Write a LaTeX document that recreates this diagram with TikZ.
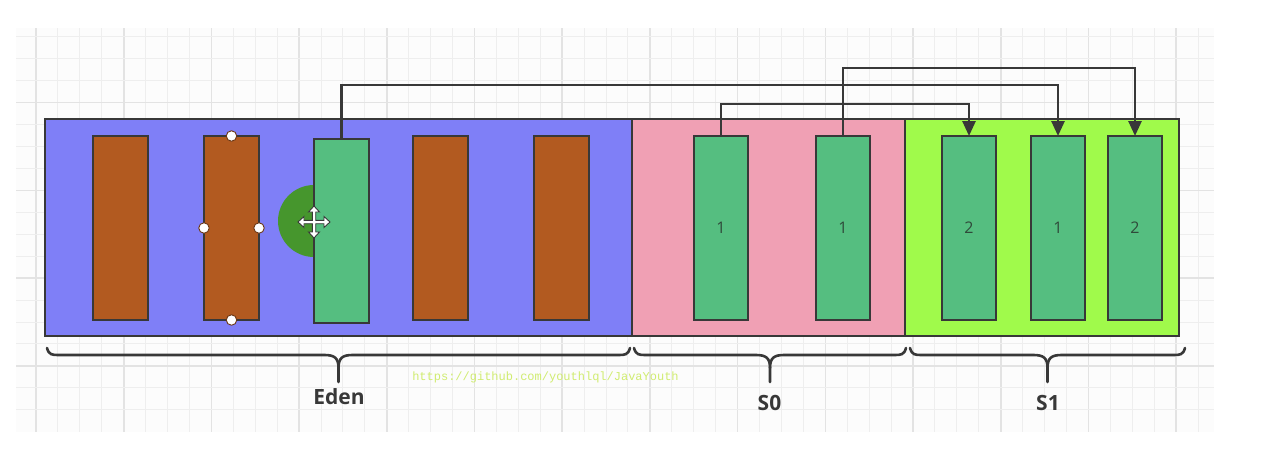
\documentclass[tikz,border=0pt]{standalone}
\usepackage{fontspec}
\setmainfont{Open Sans}
\newfontfamily\monof{Liberation Mono}
\usetikzlibrary{arrows.meta}
\definecolor{linec}{HTML}{383838}
\definecolor{edenc}{HTML}{7F7FF7}
\definecolor{szeroc}{HTML}{F0A0B4}
\definecolor{sonec}{HTML}{A0FA4B}
\definecolor{brownc}{HTML}{B25A20}
\definecolor{objc}{HTML}{55BE80}
\definecolor{dgreenc}{HTML}{46962D}
\definecolor{gridminor}{HTML}{EEEEEE}
\definecolor{gridmajor}{HTML}{E3E3E3}
\definecolor{wmark}{HTML}{D0EC70}
\definecolor{numc}{HTML}{2F4A3A}
\begin{document}
\begin{tikzpicture}[x=1pt,y=-1pt,
  area/.style={draw=linec, line width=2.6pt, inner sep=0pt, outer sep=0pt, minimum height=217pt},
  objbox/.style={draw=linec, line width=2.6pt, inner sep=0pt, outer sep=0pt, minimum width=55pt, minimum height=184pt},
  oldobj/.style={objbox, fill=brownc},
  liveobj/.style={objbox, fill=objc, font=\fontsize{16}{18}\selectfont, text=numc},
  conn/.style={draw=linec, line width=2.6pt, -{Triangle[length=15pt,width=13pt]}},
  bracec/.style={draw=linec, line width=2.6pt, line cap=round},
  arealabel/.style={font=\fontsize{21}{24}\selectfont\bfseries, text=linec, inner sep=0pt},
  handle/.style={circle, draw=brownc!60!black, fill=white, line width=0.9pt, minimum size=10.5pt, inner sep=0pt}
]
\useasboundingbox (0,0) rectangle (1274,458);
% grid background
\fill[fill={rgb,255:red,252;green,252;blue,252}] (16,28) rectangle (1214,432);
\foreach \k in {0,...,53} {
  \pgfmathsetmacro\xx{36+21.925*\k}
  \pgfmathtruncatemacro\mm{mod(\k,4)}
  \ifnum\mm=0
    \draw[gridmajor, line width=1.6pt] (\xx,28) -- (\xx,432);
  \else
    \draw[gridminor, line width=1pt] (\xx,28) -- (\xx,432);
  \fi
}
\foreach \k in {1,...,18} {
  \pgfmathsetmacro\yy{14.7+21.95*\k}
  \pgfmathtruncatemacro\mm{mod(\k,4)}
  \ifnum\mm=0
    \draw[gridmajor, line width=1.6pt] (16,\yy) -- (1214,\yy);
  \else
    \draw[gridminor, line width=1pt] (16,\yy) -- (1214,\yy);
  \fi
}
% areas
\node[area, fill=edenc, minimum width=587pt] (eden) at (338.5,227.5) {};
\node[area, fill=szeroc, minimum width=273pt] (szero) at (768.5,227.5) {};
\node[area, fill=sonec, minimum width=274pt] (sone) at (1042,227.5) {};
% eden objects
\node[oldobj] (e1) at (120.5,228) {};
\node[oldobj] (e2) at (231.5,228) {};
\node[oldobj] (e4) at (440.5,228) {};
\node[oldobj] (e5) at (561.5,228) {};
\fill[dgreenc] (314,221) circle (36);
\node[liveobj] (e3) at (341.5,231) {};
% selection handles
\node[handle] (h1) at (e2.north) {};
\node[handle] (h2) at (e2.west) {};
\node[handle] (h3) at (e2.east) {};
\node[handle] (h4) at (e2.south) {};
% move cursor
\filldraw[fill=white, draw=linec, line width=0.9pt, shift={(314,222)}]
  (16,0) -- (10,-5.5) -- (10,-1.7) -- (1.7,-1.7) -- (1.7,-10) -- (5.5,-10) -- (0,-16) -- (-5.5,-10) -- (-1.7,-10) -- (-1.7,-1.7)
  -- (-10,-1.7) -- (-10,-5.5) -- (-16,0) -- (-10,5.5) -- (-10,1.7) -- (-1.7,1.7) -- (-1.7,10) -- (-5.5,10) -- (0,16)
  -- (5.5,10) -- (1.7,10) -- (1.7,1.7) -- (10,1.7) -- (10,5.5) -- cycle;
% survivor objects
\node[liveobj, minimum width=54pt] (a1) at (721,228) {1};
\node[liveobj, minimum width=54pt] (a2) at (843,228) {1};
\node[liveobj, minimum width=54pt] (b1) at (969,228) {2};
\node[liveobj, minimum width=54pt] (b2) at (1058,228) {1};
\node[liveobj, minimum width=54pt] (b3) at (1135,228) {2};
% connectors
\draw[conn] (a1.north) -- ([yshift=32pt]a1.north) -| (b1.north);
\draw[conn] (e3.north) -- ([yshift=54pt]e3.north) -| (b2.north);
\draw[conn] (a2.north) -- ([yshift=68pt]a2.north) -| (b3.north);
% braces
\draw[bracec] (47,348) .. controls (49,355) and (52,355) .. (59,355) -- (324.5,355)
  .. controls (334.5,355) and (338.5,358) .. (338.5,368) -- (338.5,382);
\draw[bracec] (630,348) .. controls (628,355) and (625,355) .. (618,355) -- (352.5,355)
  .. controls (342.5,355) and (338.5,358) .. (338.5,368);
\draw[bracec] (634,348) .. controls (636,355) and (639,355) .. (646,355) -- (756,355)
  .. controls (766,355) and (770,358) .. (770,368) -- (770,382);
\draw[bracec] (906,348) .. controls (904,355) and (901,355) .. (894,355) -- (784,355)
  .. controls (774,355) and (770,358) .. (770,368);
\draw[bracec] (910,348) .. controls (912,355) and (915,355) .. (922,355) -- (1033.5,355)
  .. controls (1043.5,355) and (1047.5,358) .. (1047.5,368) -- (1047.5,382);
\draw[bracec] (1185,348) .. controls (1183,355) and (1180,355) .. (1173,355) -- (1061.5,355)
  .. controls (1051.5,355) and (1047.5,358) .. (1047.5,368);
% labels
\node[arealabel] (leden) at (339,397) {Eden};
\node[arealabel] (lszero) at (769.5,403) {S0};
\node[arealabel] (lsone) at (1048,403) {S1};
\node[text=wmark, font=\monof\fontsize{12}{14}\selectfont, inner sep=0pt] (wm) at (545.5,377) {https://github.com/youthlql/JavaYouth};
\end{tikzpicture}
\end{document}
